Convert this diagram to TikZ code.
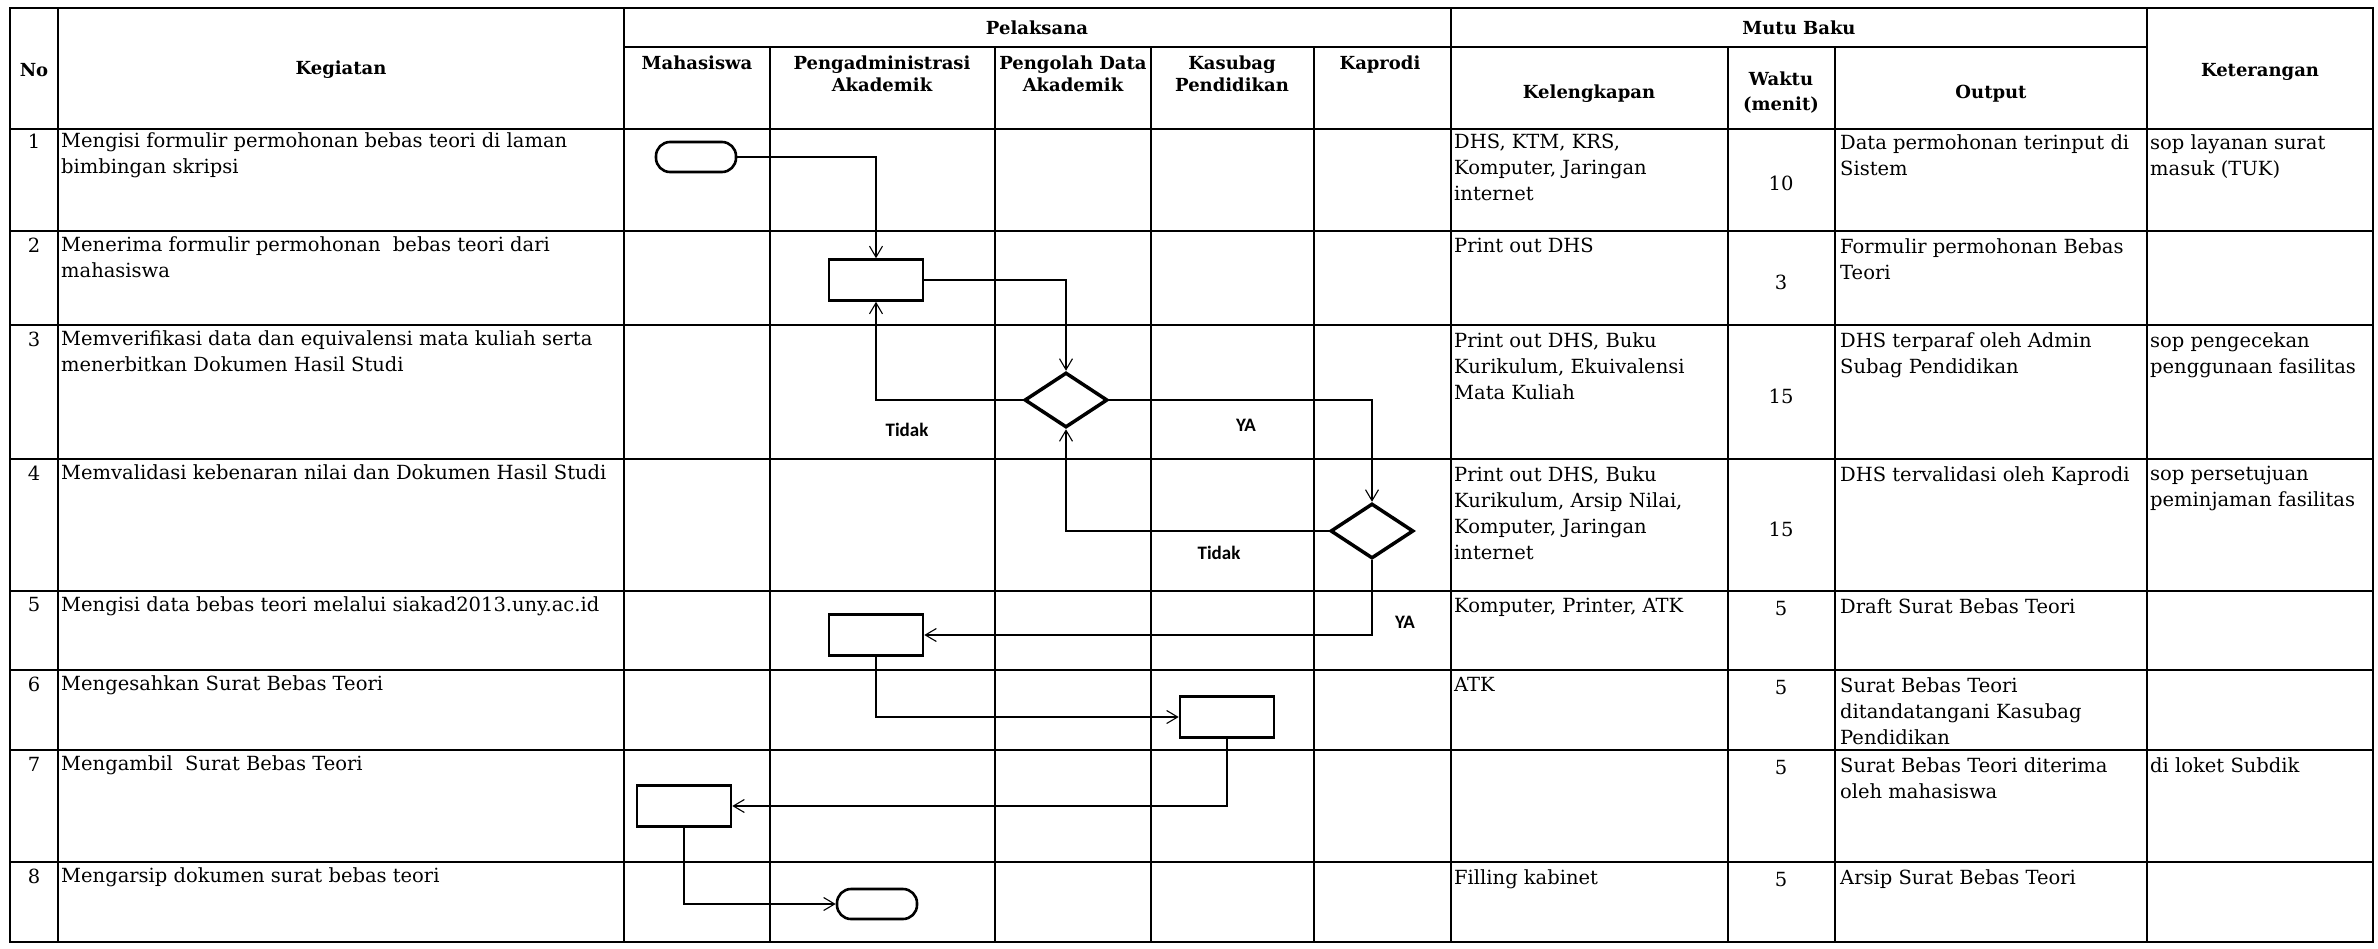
\documentclass[tikz,border=0pt]{standalone}
\usepackage{fontspec}
\setmainfont{DejaVu Serif}
\newfontfamily\hdrfont{DejaVu Serif}
\newfontfamily\lblfont{Carlito}
\usetikzlibrary{shapes.geometric,arrows.meta}
\begin{document}
\begin{tikzpicture}[x=1pt,y=-1pt,
  grid/.style={line width=2pt},
  hd/.style={font=\hdrfont\bfseries\fontsize{18}{22}\selectfont, align=center, inner sep=0},
  cell/.style={anchor=north west, inner sep=0, align=left, font=\fontsize{19.5}{26}\selectfont},
  num/.style={inner sep=0, font=\fontsize{19.5}{26}\selectfont},
  proc/.style={draw, line width=2.6pt, minimum width=94pt, minimum height=41pt, inner sep=0},
  term/.style={draw, line width=2.6pt, rounded corners=14pt, minimum width=80pt, minimum height=30pt, inner sep=0},
  dec/.style={draw, diamond, line width=3.5pt, minimum width=83pt, minimum height=55pt, inner sep=0},
  arr/.style={line width=1.1pt, -{Straight Barb[length=11pt,width=13pt]}},
  lbl/.style={font=\lblfont\bfseries\fontsize{19}{22}\selectfont, inner sep=0}
]
\useasboundingbox (0,0) rectangle (2378,948);
% grid
\draw[grid] (10,8) rectangle (2373,942);
\draw[grid] (624,47) -- (2147,47);
\draw[grid] (10,129) -- (2373,129);
\foreach \y in {231,325,459,591,670,750,862} \draw[grid] (10,\y) -- (2373,\y);
\foreach \x in {58,624,1451,2147} \draw[grid] (\x,8) -- (\x,942);
\foreach \x in {770,995,1151,1314,1728,1835} \draw[grid] (\x,47) -- (\x,942);
% headers
\node[hd] (hNo) at (34,70) {No};
\node[hd] (hKeg) at (341,70) {Kegiatan};
\node[hd] (hPel) at (1037,28) {Pelaksana};
\node[hd] (hMB) at (1799,28) {Mutu Baku};
\node[hd, anchor=north] (hMhs) at (697,56) {Mahasiswa};
\node[hd, anchor=north] (hPA) at (882,56) {Pengadministrasi\\Akademik};
\node[hd, anchor=north] (hPD) at (1073,56) {Pengolah Data\\Akademik};
\node[hd, anchor=north] (hKS) at (1232,56) {Kasubag\\Pendidikan};
\node[hd, anchor=north] (hKP) at (1380,56) {Kaprodi};
\node[hd] (hKel) at (1589,94) {Kelengkapan};
\node[hd, font=\hdrfont\bfseries\fontsize{18}{25}\selectfont] (hW) at (1781,93) {Waktu\\(menit)};
\node[hd] (hOut) at (1991,94) {Output};
\node[hd] (hKet) at (2260,72) {Keterangan};
% numbers
\node[num] (n1) at (34,141) {1};
\node[num] (n2) at (34,245) {2};
\node[num] (n3) at (34,339) {3};
\node[num] (n4) at (34,473) {4};
\node[num] (n5) at (34,605) {5};
\node[num] (n6) at (34,684) {6};
\node[num] (n7) at (34,764) {7};
\node[num] (n8) at (34,876) {8};
% kegiatan
\node[cell] (k1) at (61,132) {Mengisi formulir permohonan bebas teori di laman\\bimbingan skripsi};
\node[cell] (k2) at (61,236) {Menerima formulir permohonan~ bebas teori dari\\mahasiswa};
\node[cell] (k3) at (61,330) {Memverifikasi data dan equivalensi mata kuliah serta\\menerbitkan Dokumen Hasil Studi};
\node[cell] (k4) at (61,464) {Memvalidasi kebenaran nilai dan Dokumen Hasil Studi};
\node[cell] (k5) at (61,596) {Mengisi data bebas teori melalui siakad2013.uny.ac.id};
\node[cell] (k6) at (61,675) {Mengesahkan Surat Bebas Teori};
\node[cell] (k7) at (61,755) {Mengambil~ Surat Bebas Teori};
\node[cell] (k8) at (61,867) {Mengarsip dokumen surat bebas teori};
% kelengkapan
\node[cell] (l1) at (1454,134) {DHS, KTM, KRS,\\Komputer, Jaringan\\internet};
\node[cell] (l2) at (1454,238) {Print out DHS};
\node[cell] (l3) at (1454,332) {Print out DHS, Buku\\Kurikulum, Ekuivalensi\\Mata Kuliah};
\node[cell] (l4) at (1454,466) {Print out DHS, Buku\\Kurikulum, Arsip Nilai,\\Komputer, Jaringan\\internet};
\node[cell] (l5) at (1454,598) {Komputer, Printer, ATK};
\node[cell] (l6) at (1454,677) {ATK};
\node[cell] (l8) at (1454,869) {Filling kabinet};
% waktu
\node[num] (w1) at (1781,183) {10};
\node[num] (w2) at (1781,282) {3};
\node[num] (w3) at (1781,396) {15};
\node[num] (w4) at (1781,529) {15};
\node[num] (w5) at (1781,609) {5};
\node[num] (w6) at (1781,688) {5};
\node[num] (w7) at (1781,768) {5};
\node[num] (w8) at (1781,880) {5};
% output
\node[cell] (o1) at (1840,134) {Data permohonan terinput di\\Sistem};
\node[cell] (o2) at (1840,238) {Formulir permohonan Bebas\\Teori};
\node[cell] (o3) at (1840,332) {DHS terparaf oleh Admin\\Subag Pendidikan};
\node[cell] (o4) at (1840,466) {DHS tervalidasi oleh Kaprodi};
\node[cell] (o5) at (1840,598) {Draft Surat Bebas Teori};
\node[cell] (o6) at (1840,677) {Surat Bebas Teori\\ditandatangani Kasubag\\Pendidikan};
\node[cell] (o7) at (1840,757) {Surat Bebas Teori diterima\\oleh mahasiswa};
\node[cell] (o8) at (1840,869) {Arsip Surat Bebas Teori};
% keterangan
\node[cell] (e1) at (2150,134) {sop layanan surat\\masuk (TUK)};
\node[cell] (e3) at (2150,332) {sop pengecekan\\penggunaan fasilitas};
\node[cell] (e4) at (2150,466) {sop persetujuan\\peminjaman fasilitas};
\node[cell] (e7) at (2150,757) {di loket Subdik};
% flowchart shapes
\node[term] (t1) at (696,157) {};
\node[proc] (b1) at (876,280) {};
\node[dec] (d1) at (1066,400) {};
\node[dec] (d2) at (1372,531) {};
\node[proc] (b2) at (876,635) {};
\node[proc] (b3) at (1227,717) {};
\node[proc] (b4) at (684,806) {};
\node[term] (t2) at (877,904) {};
% connectors
\draw[arr] (t1.east) -| (b1.north);
\draw[arr] (b1.east) -| (d1.north);
\draw[arr] (d1.west) -| (b1.south);
\draw[arr] (d1.east) -| (d2.north);
\draw[arr] (d2.west) -| (d1.south);
\draw[arr] (d2.south) |- (b2.east);
\draw[arr] (b2.south) |- (b3.west);
\draw[arr] (b3.south) |- (b4.east);
\draw[arr] (b4.south) |- (t2.west);
% labels
\node[lbl] (lt1) at (907,430) {Tidak};
\node[lbl] (ly1) at (1246,425) {YA};
\node[lbl] (lt2) at (1219,553) {Tidak};
\node[lbl] (ly2) at (1405,622) {YA};
\end{tikzpicture}
\end{document}
